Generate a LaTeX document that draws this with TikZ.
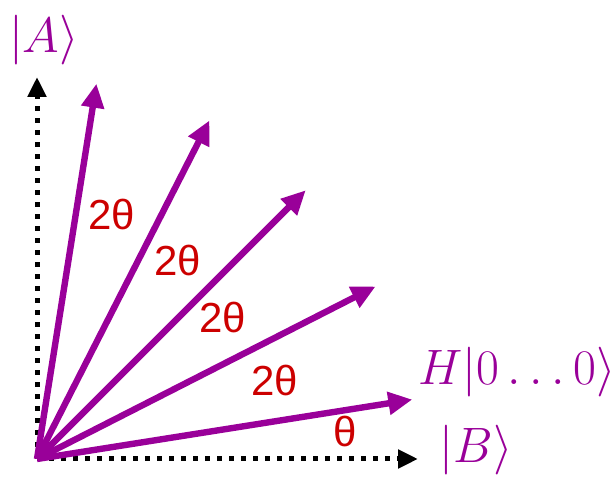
\documentclass[tikz,border=0pt]{standalone}
\usepackage{fontspec}
\usepackage{tikz}
\usetikzlibrary{arrows.meta}
\newfontfamily\anglefont{Liberation Sans}
\definecolor{statepurple}{HTML}{990099}
\definecolor{anglered}{HTML}{CC0000}
\tikzset{
    axis/.style={line width=2.5pt, black, dash pattern=on 2.5pt off 3.5pt,
                 -{Triangle[length=10pt, width=9pt]}},
    vec/.style={line width=3.2pt, statepurple, -{Triangle[length=12pt, width=11pt]}},
    ket/.style={text=statepurple, inner sep=0pt, font=\fontsize{34}{40}\selectfont},
    ang/.style={text=anglered, inner sep=0pt, font=\anglefont\fontsize{21}{25}\selectfont}
}
\begin{document}
\begin{tikzpicture}[x=0.5pt, y=0.5pt]
    \useasboundingbox (-37,-21) rectangle (579,459);
    \coordinate (O) at (0,0);
    \coordinate (Atip) at (0,382);
    \coordinate (Btip) at (381,0);
    \node[ket] (ketA) at (7,419) {$|A\rangle$};
    \node[ket] (ketB) at (439,9) {$|B\rangle$};
    \node[ket] (ketH) at (480,87) {$H|0\ldots0\rangle$};
    % axes
    \draw[axis] (O) -- (Atip);
    \draw[axis] (O) -- (Btip);
    % rotated states
    \foreach \ang [count=\i] in {9,27,45,63,81} {
        \coordinate (v\i) at (\ang:380);
        \draw[vec] (O) -- (v\i);
    }
    \node[ang] (th) at (308,27) {θ};
    \node[ang] (th1) at (238,78) {2θ};
    \node[ang] (th2) at (186,141) {2θ};
    \node[ang] (th3) at (141,198) {2θ};
    \node[ang] (th4) at (75,244) {2θ};
\end{tikzpicture}
\end{document}
